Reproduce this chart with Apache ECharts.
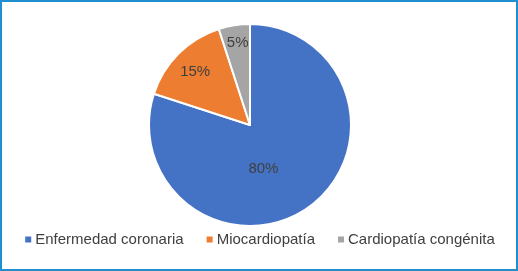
<!DOCTYPE html>
<html>
<head>
<meta charset="utf-8">
<script src="https://cdn.jsdelivr.net/npm/echarts@6/dist/echarts.min.js"></script>
<style>
  html, body { margin: 0; padding: 0; background: #fff; }
  #chart {
    width: 518px;
    height: 271px;
    box-sizing: border-box;
    border: 2px solid #1f8fd0;
  }
</style>
</head>
<body>
<div id="chart"></div>
<script>
// categories and values (percent)
var categories = ["Enfermedad coronaria", "Miocardiopatía", "Cardiopatía congénita"];
var values = [80, 15, 5];
var colors = ["#4472c4", "#ed7d31", "#a5a5a5"];
// nudge for each inside label, to sit where Excel put it
var labelShift = [[-18, 1], [-17, -15], [-4, -29]];

var chart = echarts.init(document.getElementById("chart"));

var data = categories.map(function (name, i) {
  return { name: name, value: values[i], itemStyle: { color: colors[i] } };
});

chart.setOption({
  animation: false,
  textStyle: { fontFamily: "Liberation Sans, Arial, sans-serif" },
  legend: {
    bottom: 17,
    left: "center",
    icon: "rect",
    itemWidth: 8,
    itemHeight: 8,
    itemGap: 21,
    textStyle: { fontSize: 15, color: "#404040", padding: [0, 0, 0, -2] },
    data: categories
  },
  series: [
    {
      type: "pie",
      center: [248, 123],
      radius: 101,
      startAngle: 90,
      clockwise: true,
      itemStyle: { borderColor: "#fff", borderWidth: 2 },
      label: {
        show: true,
        position: "inside",
        formatter: "{c}%",
        fontSize: 15,
        color: "#404040"
      },
      labelLine: { show: false },
      labelLayout: function (params) {
        var s = labelShift[params.dataIndex];
        return { dx: s[0], dy: s[1] };
      },
      emphasis: { disabled: true },
      data: data
    }
  ]
});
</script>
</body>
</html>
